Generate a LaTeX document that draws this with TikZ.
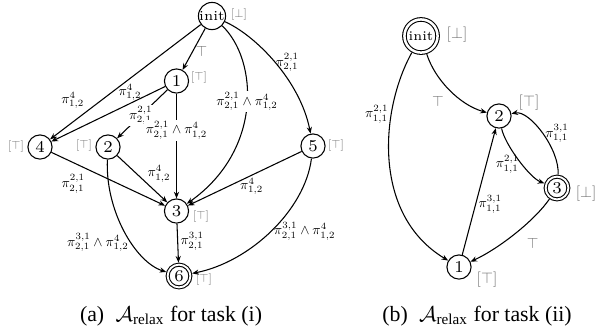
\documentclass[tikz,border=0pt]{standalone}
\usepackage{graphicx}
\usepackage{fontspec}
\newfontfamily\capfont{Liberation Serif}
\usetikzlibrary{arrows.meta}
% edge labels, edge truth labels and state tags, set in 10pt math and shrunk
\newcommand\elab[1]{\scalebox{0.58}{$#1$}}
\newcommand\etop{\scalebox{0.63}{$\top$}}
\newcommand\tagl[1]{\scalebox{0.5}{$[#1]$}}
\newcommand\tagr[1]{\scalebox{0.65}{$[#1]$}}
\begin{document}
\begin{tikzpicture}[x=0.4221pt,y=0.4221pt,
  st/.style={circle,draw,line width=0.45pt,minimum size=10.2pt,inner sep=0pt,
    font=\fontsize{7}{8}\selectfont},
  initst/.style={st,font=\fontsize{5.8}{6}\selectfont},
  dbl/.style={st,double,double distance=0.8pt,minimum size=9.6pt,outer sep=0.85pt},
  dblinit/.style={dbl,minimum size=14pt,double distance=1.05pt,outer sep=1pt,
    font=\fontsize{5.6}{6}\selectfont},
  arr/.style={-{Stealth[length=2.8pt,width=2.2pt]},line width=0.45pt},
  lbl/.style={font=\normalsize,inner sep=1pt},
  lblw/.style={lbl,fill=white,inner sep=0.6pt},
  tlbl/.style={lbl,text=black!55},
  tag/.style={text=black!55,inner sep=0pt,font=\normalsize},
  captext/.style={inner sep=0pt,font=\capfont\fontsize{9.2}{11}\selectfont}]
\useasboundingbox (0,-333) rectangle (597,0);

% ---------- (a) task (i) ----------
\node[initst] (init) at (212,-16) {init};
\node[st] (n1) at (176.5,-81) {1};
\node[st] (n2) at (108,-147) {2};
\node[st] (n4) at (40,-147) {4};
\node[st] (n3) at (176.5,-211) {3};
\node[st] (n5) at (313,-146) {5};
\node[dbl] (n6) at (179,-276) {6};

\node[tag] (tinit) at (239,-15) {\tagl{\bot}};
\node[tag] (t1) at (199,-78) {\tagl{\top}};
\node[tag] (t4) at (16,-147) {\tagl{\top}};
\node[tag] (t2) at (84,-146) {\tagl{\top}};
\node[tag] (t5) at (336,-146) {\tagl{\top}};
\node[tag] (t3) at (201,-217) {\tagl{\top}};
\node[tag] (t6) at (204,-280) {\tagl{\top}};

\draw[arr] (init) -- node[tlbl,pos=0.55,anchor=west]{\etop} (n1);
\draw[arr] (init) -- node[lbl,pos=0.755,anchor=south east]{\elab{\pi^4_{1,2}}} (n4);
\draw[arr] (n1) -- node[lbl,pos=0.31,anchor=south]{\elab{\pi^4_{1,2}}} (n4);
\draw[arr] (n1) -- node[lblw,pos=0.53]{\elab{\pi^{2,1}_{2,1}}} (n2);
\draw[arr] (n1) -- node[lblw,pos=0.35]{\elab{\pi^{2,1}_{2,1}\wedge\pi^4_{1,2}}} (n3);
\draw[arr] (init) .. controls (258,-60) and (263,-150) ..
  node[lblw,pos=0.47]{\elab{\pi^{2,1}_{2,1}\wedge\pi^4_{1,2}}} (n3);
\draw[arr] (init) .. controls (255,-35) and (300,-80) ..
  node[lbl,pos=0.5,anchor=west,xshift=-1pt]{\elab{\pi^{2,1}_{2,1}}} (n5);
\draw[arr] (n4) -- node[lbl,pos=0.32,anchor=north east,yshift=-1pt]{\elab{\pi^{2,1}_{2,1}}} (n3);
\draw[arr] (n2) -- node[lbl,pos=0.55,anchor=south west,yshift=-1.5pt]{\elab{\pi^4_{1,2}}} (n3);
\draw[arr] (n5) -- node[lbl,pos=0.44,anchor=north]{\elab{\pi^4_{1,2}}} (n3);
\draw[arr] (n2) .. controls (105,-210) and (135,-262) ..
  node[lbl,pos=0.6,anchor=east]{\elab{\pi^{3,1}_{2,1}\wedge\pi^4_{1,2}}} (n6);
\draw[arr] (n3) -- node[lbl,pos=0.45,anchor=west]{\elab{\pi^{3,1}_{2,1}}} (n6);
\draw[arr] (n5) .. controls (305,-210) and (250,-262) ..
  node[lbl,pos=0.5,anchor=west]{\elab{\pi^{3,1}_{2,1}\wedge\pi^4_{1,2}}} (n6);

\node[captext] (capa) at (171,-316)
  {(a)\hspace{2.5pt} $\mathcal{A}_{\mbox{\fontsize{6.4}{7}\selectfont relax}}$ for task (i)};

% ---------- (b) task (ii) ----------
\node[dblinit] (rinit) at (421,-36) {init};
\node[st] (r2) at (499,-116) {2};
\node[dbl] (r3) at (557,-188) {3};
\node[st] (r1) at (459,-267) {1};

\node[tag] (trinit) at (457,-35) {\tagr{\bot}};
\node[tag] (tr2) at (529,-103) {\tagr{\top}};
\node[tag] (tr3) at (586,-194) {\tagr{\bot}};
\node[tag] (tr1) at (487,-280) {\tagr{\top}};

\draw[arr] (rinit) .. controls (435,-80) and (460,-105) ..
  node[tlbl,pos=0.45,anchor=north east,yshift=-2.5pt]{\etop} (r2);
\draw[arr] (rinit) .. controls (380,-110) and (372,-215) ..
  node[lbl,pos=0.3,anchor=east]{\elab{\pi^{2,1}_{1,1}}} (r1);
\draw[arr] (r1) -- node[lbl,pos=0.40,anchor=west]{\elab{\pi^{3,1}_{1,1}}} (r2);
\draw[arr] (r2) .. controls (505,-145) and (530,-178) ..
  node[lbl,pos=0.56,anchor=east]{\elab{\pi^{2,1}_{1,1}}} (r3);
\draw[arr] (r3) .. controls (560,-150) and (530,-110) ..
  node[lbl,pos=0.5,anchor=west]{\elab{\pi^{3,1}_{1,1}}} (r2);
\draw[arr] (r3) .. controls (535,-220) and (500,-248) ..
  node[tlbl,pos=0.4,anchor=north west,yshift=-4pt]{\etop} (r1);

\node[captext] (capb) at (477,-316)
  {(b)\hspace{2.5pt} $\mathcal{A}_{\mbox{\fontsize{6.4}{7}\selectfont relax}}$ for task (ii)};
\end{tikzpicture}
\end{document}
